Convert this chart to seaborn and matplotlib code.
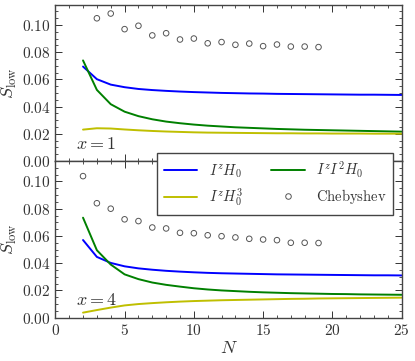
import numpy as np
import pandas as pd
import seaborn as sns
import matplotlib
matplotlib.use("Agg")
import matplotlib.pyplot as plt
from matplotlib.ticker import MultipleLocator, FormatStrFormatter
from matplotlib.lines import Line2D

sns.set_style("ticks")
plt.rcParams["mathtext.fontset"] = "cm"
plt.rcParams["font.family"] = ["DejaVu Serif"]

N_lines = list(range(2, 26))
# x = 1 panel
top_IzH0 = [0.0695, 0.0602, 0.0562, 0.0543, 0.0530, 0.0522, 0.0516, 0.0511, 0.0507, 0.0504,
            0.0501, 0.0499, 0.0497, 0.0496, 0.0494, 0.0493, 0.0492, 0.0491, 0.0490, 0.0489,
            0.0488, 0.0488, 0.0487, 0.0486]
top_IzI2H0 = [0.0740, 0.0523, 0.0418, 0.0363, 0.0330, 0.0307, 0.0290, 0.0278, 0.0268, 0.0260,
              0.0254, 0.0248, 0.0244, 0.0240, 0.0236, 0.0233, 0.0230, 0.0228, 0.0226, 0.0224,
              0.0222, 0.0220, 0.0218, 0.0216]
top_IzH03 = [0.0231, 0.0241, 0.0239, 0.0232, 0.0226, 0.0221, 0.0217, 0.0214, 0.0211, 0.0209,
             0.0208, 0.0207, 0.0206, 0.0205, 0.0204, 0.0204, 0.0203, 0.0203, 0.0202, 0.0202,
             0.0202, 0.0201, 0.0201, 0.0201]
N_cheb_top = list(range(3, 20))
top_cheb = [0.1050, 0.1085, 0.0970, 0.0995, 0.0924, 0.0940, 0.0894, 0.0901, 0.0866, 0.0875,
            0.0855, 0.0864, 0.0845, 0.0857, 0.0842, 0.0842, 0.0838]
# x = 4 panel
bot_IzH0 = [0.0570, 0.0446, 0.0402, 0.0377, 0.0362, 0.0352, 0.0344, 0.0338, 0.0333, 0.0329,
            0.0326, 0.0324, 0.0322, 0.0320, 0.0318, 0.0317, 0.0316, 0.0315, 0.0314, 0.0313,
            0.0312, 0.0311, 0.0311, 0.0310]
bot_IzI2H0 = [0.0734, 0.0495, 0.0390, 0.0318, 0.0283, 0.0258, 0.0241, 0.0228, 0.0216, 0.0207,
              0.0200, 0.0195, 0.0190, 0.0186, 0.0183, 0.0180, 0.0178, 0.0176, 0.0174, 0.0173,
              0.0171, 0.0170, 0.0169, 0.0168]
bot_IzH03 = [0.0037, 0.0056, 0.0074, 0.0090, 0.0100, 0.0107, 0.0113, 0.0118, 0.0122, 0.0125,
             0.0128, 0.0130, 0.0132, 0.0134, 0.0136, 0.0138, 0.0139, 0.0141, 0.0142, 0.0143,
             0.0144, 0.0145, 0.0146, 0.0147]
N_cheb_bot = list(range(2, 20))
bot_cheb = [0.1039, 0.0840, 0.0800, 0.0722, 0.0709, 0.0662, 0.0655, 0.0623, 0.0620, 0.0605,
            0.0598, 0.0589, 0.0579, 0.0574, 0.0569, 0.0550, 0.0550, 0.0548]

labels = [r"$I^zH_0$", r"$I^zI^2H_0$", r"$I^zH_0^3$", r"$\mathrm{Chebyshev}$"]
colors = ["#0000ff", "#008000", "#bfbf00"]

fig = plt.figure(figsize=(4.15, 3.61), dpi=100)
ax_top = fig.add_axes([0.1333, 0.554, 0.8345, 0.433])
ax_bot = fig.add_axes([0.1333, 0.120, 0.8345, 0.434], sharex=ax_top)

panels = [
    (ax_top, [top_IzH0, top_IzI2H0, top_IzH03], N_cheb_top, top_cheb, r"$x=1$"),
    (ax_bot, [bot_IzH0, bot_IzI2H0, bot_IzH03], N_cheb_bot, bot_cheb, r"$x=4$"),
]

for ax, series, ncheb, cheb, txt in panels:
    for ys, c in zip(series, colors):
        sns.lineplot(x=N_lines, y=ys, ax=ax, color=c, lw=1.4, legend=False)
    sns.scatterplot(x=ncheb, y=cheb, ax=ax, marker="o", s=16,
                    facecolor="none", edgecolor="#555555", linewidth=0.7, legend=False)
    ax.set_xlim(0, 25)
    ax.set_ylim(0, 0.115)
    ax.yaxis.set_major_locator(MultipleLocator(0.02))
    ax.yaxis.set_minor_locator(MultipleLocator(0.005))
    ax.xaxis.set_major_locator(MultipleLocator(5))
    ax.xaxis.set_minor_locator(MultipleLocator(1))
    ax.yaxis.set_major_formatter(FormatStrFormatter(r"$%.2f$"))
    ax.xaxis.set_major_formatter(FormatStrFormatter(r"$%d$"))
    ax.tick_params(which="both", direction="in", top=True, right=True,
                   labelsize=11, color="#333333", labelcolor="#333333")
    ax.tick_params(which="major", length=5, width=0.7)
    ax.tick_params(which="minor", length=2.5, width=0.6)
    for sp in ax.spines.values():
        sp.set_color("#444444")
        sp.set_linewidth(1.0)
    ax.set_ylabel(r"$S_{\rm low}$", fontsize=13, labelpad=2, color="#333333")
    ax.text(0.06, 0.11, txt, transform=ax.transAxes, fontsize=13,
            ha="left", va="center", color="#333333")

ax_top.tick_params(labelbottom=False)
ax_top.set_xlabel("")
ax_bot.set_xlabel(r"$N$", fontsize=13, labelpad=1, color="#333333")

handles = [Line2D([], [], color=colors[0], lw=1.4),
           Line2D([], [], color=colors[1], lw=1.4),
           Line2D([], [], color=colors[2], lw=1.4),
           Line2D([], [], ls="none", marker="o", ms=4, mfc="none",
                  mec="#555555", mew=0.7)]
order = [0, 2, 1, 3]
leg = fig.legend([handles[i] for i in order], [labels[i] for i in order],
                 ncol=2, loc="upper right", bbox_to_anchor=(0.948, 0.5753),
                 fontsize=10.5, frameon=True, fancybox=False, framealpha=1,
                 edgecolor="#444444", borderaxespad=0, handlelength=2.3,
                 columnspacing=1.9, handletextpad=0.8, borderpad=0.45,
                 labelspacing=0.45, labelcolor="#333333")
leg.get_frame().set_linewidth(1.0)

fig.savefig("out.png", dpi=100)
